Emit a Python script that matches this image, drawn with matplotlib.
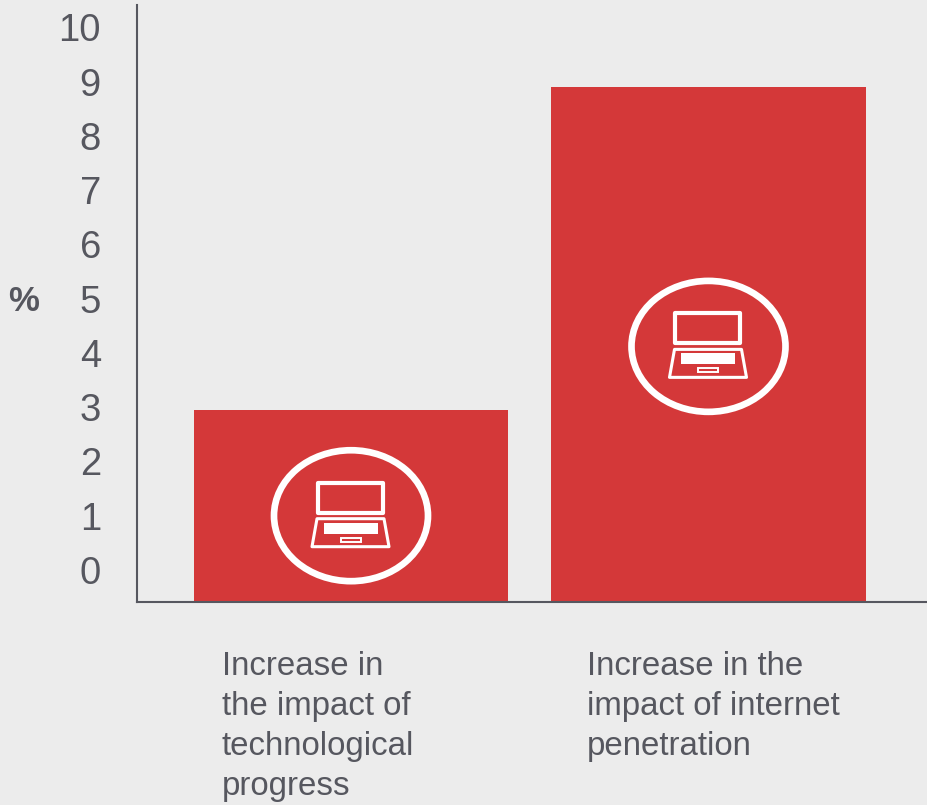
import matplotlib
matplotlib.use("Agg")
import matplotlib.pyplot as plt
from matplotlib.patches import Ellipse, Polygon, Rectangle

plt.rcParams['font.family'] = ['Liberation Sans', 'DejaVu Sans']

labels = ['Increase in\nthe impact of\ntechnological\nprogress',
          'Increase in the\nimpact of internet\npenetration']
values = [2.95, 8.9]
icon_y = [1.0, 4.12]
y_ticks = list(range(0, 11))

bg = '#ececec'
red = '#d43839'
grey = '#56575f'

# size of one data unit in pixels, so the icon can be described in pixels
px_x = 1 / 357.5
px_y = 1 / 54.3
y_min = -0.59
y_max = 10.41

fig = plt.figure(figsize=(9.28, 8.05), dpi=100, facecolor=bg)
ax = fig.add_axes([137 / 928, 1 - 602 / 805, 791 / 928, 597 / 805], facecolor=bg)

x = [0, 1]
ax.bar(x, [v - y_min for v in values], bottom=y_min, width=0.88, color=red)
ax.set_xlim(-0.5986, 1.614)
ax.set_ylim(y_min, y_max)


def laptop(cx, cy):
    def p(dx, dy):
        return (cx + dx * px_x, cy - dy * px_y)

    ax.add_patch(Ellipse((cx, cy), 154 * px_x, 131 * px_y, fill=False, ec='white', lw=4.8))
    # screen
    ax.add_patch(Rectangle(p(-33, -3), 65 * px_x, 30 * px_y, fill=False, ec='white',
                           lw=3, joinstyle='round'))
    # base
    ax.add_patch(Polygon([p(-34, 3), p(33, 3), p(38, 31), p(-39, 31)], closed=True,
                         fill=False, ec='white', lw=2.2, joinstyle='round'))
    # keyboard
    ax.add_patch(Rectangle(p(-27, 18), 54 * px_x, 11 * px_y, fc='white', ec='none'))
    # touchpad
    ax.add_patch(Rectangle(p(-10, 26), 20 * px_x, 4 * px_y, fill=False, ec='white', lw=1.4))


for xi, yi in zip(x, icon_y):
    laptop(xi, yi)

ax.set_xticks([])
ax.set_yticks(y_ticks)
ax.tick_params(axis='y', length=0, pad=26, labelsize=27.5, labelcolor=grey)
for s in ['top', 'right']:
    ax.spines[s].set_visible(False)
for s in ['left', 'bottom']:
    ax.spines[s].set_color(grey)
    ax.spines[s].set_linewidth(1.5)

ax.text(-0.5986 - 129 * px_x, 4.95, '%', fontsize=25, color=grey, va='center', ha='left',
        fontweight='bold')

ax.text(x[0] - 129 * px_x, y_min - 49 * px_y, labels[0], fontsize=23.8, color=grey,
        va='top', ha='left', linespacing=1.37)
ax.text(x[1] - 121.5 * px_x, y_min - 49 * px_y, labels[1], fontsize=23.8, color=grey,
        va='top', ha='left', linespacing=1.37)

fig.savefig('out.png', dpi=100, facecolor=bg)
